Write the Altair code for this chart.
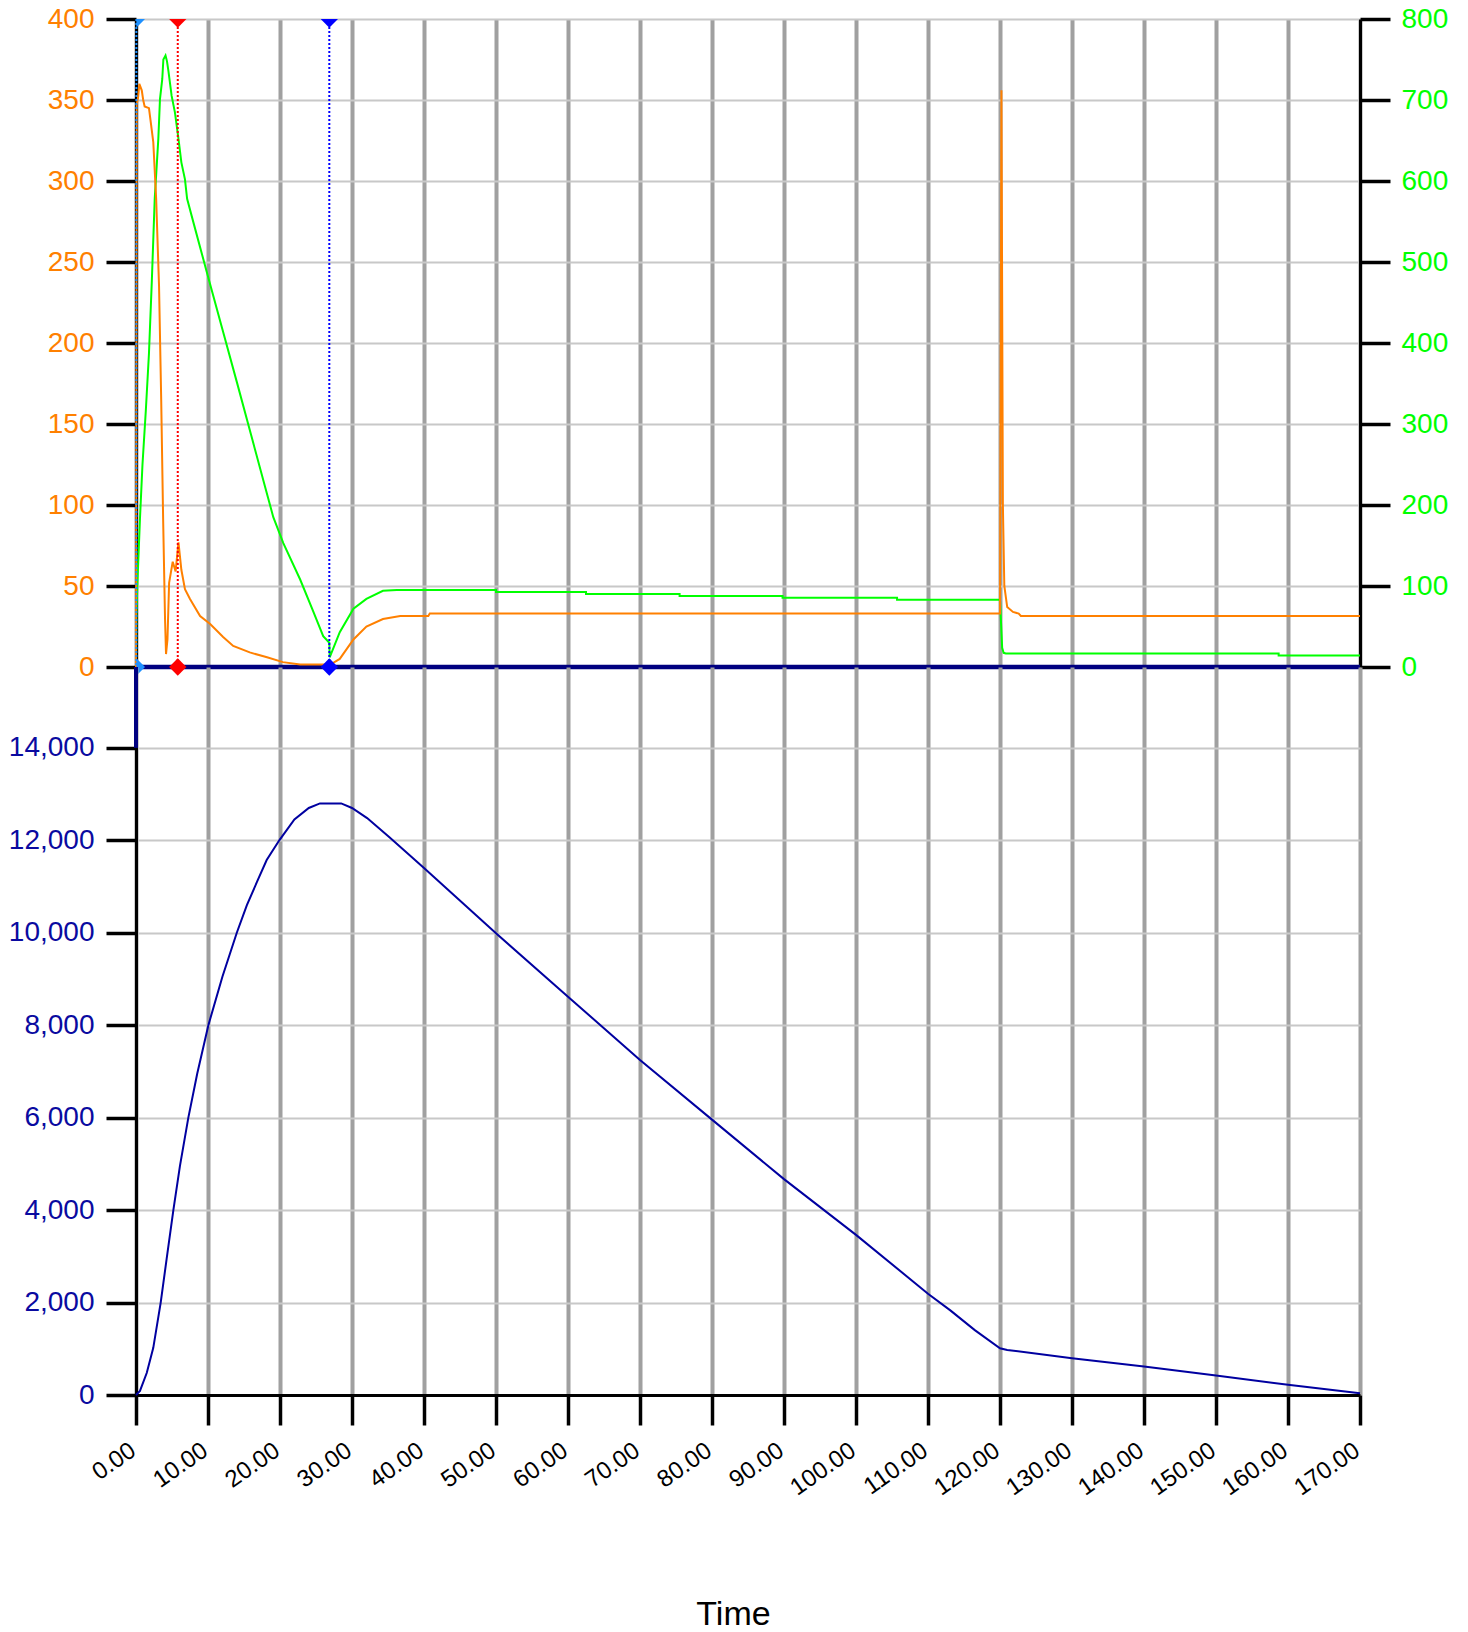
import altair as alt
import pandas as pd

# ---- time axis -------------------------------------------------------------
x_ticks = [0, 10, 20, 30, 40, 50, 60, 70, 80, 90, 100, 110, 120, 130, 140, 150, 160, 170]

# ---- upper panel: orange series (left axis, 0-400) -------------------------
orange_t = [0.0, 0.1, 0.3, 0.46, 0.8, 1.0, 1.2, 1.8, 2.0, 2.4, 2.8, 3.2, 3.5, 3.77, 4.03,
            4.17, 4.37, 4.6, 5.1, 5.5, 5.9, 6.3, 6.8, 7.5, 8.9, 10.3, 12.1, 13.5, 15.8,
            18.2, 20.4, 22.8, 26.5, 27.0, 28.3, 30.2, 32.0, 34.3, 36.7, 40.6, 40.8,
            120.0, 120.2, 120.4, 120.6, 121.0, 121.8, 122.6, 122.9, 170.0]
orange_v = [0, 347, 352, 360, 356, 350, 346, 345, 338, 324, 289, 235, 165, 91, 30,
            8, 17, 52, 65, 59, 77, 60, 48, 42, 31.5, 26.5, 18.5, 13, 9,
            6, 3, 1.5, 1.5, 1.5, 5, 17, 25, 29.6, 31.5, 31.5, 33,
            33, 356, 100, 50, 37, 34, 33, 31.5, 31.5]

# ---- upper panel: green series (right axis, 0-800) -------------------------
green_t = [0.0, 0.05, 0.18, 0.55, 0.9, 1.36, 1.8, 2.2, 2.6, 3.1, 3.33, 3.65, 3.8, 4.1,
           4.3, 4.5, 4.95, 5.4, 5.9, 6.3, 6.8, 7.1, 8.0, 10.0, 12.0, 14.0, 16.0, 18.0,
           19.07, 20.46, 22.8, 24.6, 26.0, 26.85, 26.9, 28.3, 30.2, 32.0, 34.3, 36.2,
           50.0, 50.0, 62.5, 62.5, 75.5, 75.5, 89.8, 89.8, 105.7, 105.7, 120.0,
           120.3, 120.5, 120.8, 158.7, 158.7, 170.0]
green_v = [0, 60, 100, 183, 250, 316, 387, 477, 578, 652, 701, 726, 750, 755,
           748, 736, 705, 685, 652, 623, 602, 578, 548, 482, 417, 352, 286, 220,
           185, 153, 108, 69, 38, 30, 12, 43, 72, 84, 94, 95,
           95, 92.7, 92.7, 90.2, 90.2, 87.8, 87.8, 85.4, 85.4, 82.9, 82.9,
           23.6, 17.5, 16.7, 16.7, 14.2, 14.2]

# ---- upper panel: navy base series -----------------------------------------
navy_t = [0, 170]
navy_v = [0, 0]

# ---- event markers ----------------------------------------------------------
event_t = [0.05, 5.8, 26.85]
event_color = ["#1E90FF", "#FF0000", "#0000FF"]
event_shape_bottom = ["M0,-1L1,0L0,1Z", "diamond", "diamond"]
event_shape_top = ["M0,0L1,0L0,1Z", "M-1,0L1,0L0,1Z", "M-1,0L1,0L0,1Z"]
event_bottom_v = [0, 0, 0]
event_top_v = [400, 400, 400]

# ---- lower panel: navy series (0-15750) -------------------------------------
lower_t = [0.0, 0.55, 1.5, 2.4, 3.43, 4.26, 5.19, 6.1, 7.27, 8.5, 10.05, 12.0, 14.0,
           15.4, 16.8, 18.15, 19.9, 22.0, 24.0, 25.55, 28.5, 30.0, 32.1, 35.2, 40.0,
           50.0, 60.0, 70.0, 80.0, 90.0, 100.0, 110.0, 113.1, 116.5, 120.0, 121.0,
           130.0, 140.0, 150.0, 160.0, 170.0]
lower_v = [0, 89, 480, 1020, 2000, 2950, 4000, 4950, 6000, 6950, 8000, 9050, 10000,
           10599, 11100, 11574, 12000, 12450, 12700, 12798, 12798, 12700, 12482, 12066, 11403,
           9990, 8618, 7247, 5958, 4670, 3464, 2192, 1830, 1403, 1011, 975,
           797, 619, 420, 221, 36]
lower_ticks = [0, 2000, 4000, 6000, 8000, 10000, 12000, 14000]
lower_domain = [0, 15750]
lower_edge_t = [0, 0]
lower_edge_v = [14000, 15750]

FONT = "Liberation Sans"

orange_df = pd.DataFrame({"t": orange_t, "v": orange_v})
green_df = pd.DataFrame({"t": green_t, "v": green_v})
navy_df = pd.DataFrame({"t": navy_t, "v": navy_v})
ev_bottom = pd.DataFrame({"t": event_t, "v": event_bottom_v, "c": event_color, "s": event_shape_bottom})
ev_top = pd.DataFrame({"t": event_t, "v": event_top_v, "c": event_color, "s": event_shape_top})
lower_df = pd.DataFrame({"t": lower_t, "v": lower_v})
edge_df = pd.DataFrame({"t": lower_edge_t, "v": lower_edge_v})

x_scale = alt.Scale(domain=[0, 170], nice=False, zero=False)

# shared tick styling
tick_style = dict(tickSize=30, tickWidth=3.5, tickColor="black",
                  domainColor="black", domainWidth=3, labelFont=FONT, labelOverlap=False)

x_top = alt.X("t:Q", scale=x_scale,
              axis=alt.Axis(values=x_ticks, labels=False, ticks=False, domain=False,
                            grid=True, gridColor="#a0a0a0", gridWidth=4, title=None))

left_scale = alt.Scale(domain=[0, 400], nice=False, zero=False)
y_left = alt.Y("v:Q", scale=left_scale,
               axis=alt.Axis(values=[0, 50, 100, 150, 200, 250, 300, 350, 400], orient="left",
                             format="d", labelColor="#FF8000", labelFontSize=28, labelPadding=12,
                             grid=True, gridColor="#c8c8c8", gridWidth=2, title=None,
                             **tick_style))

right_scale = alt.Scale(domain=[0, 800], nice=False, zero=False)
y_right = alt.Y("v:Q", scale=right_scale,
                axis=alt.Axis(values=[0, 100, 200, 300, 400, 500, 600, 700, 800], orient="right",
                              format="d", labelColor="#00FF00", labelFontSize=28, labelPadding=11,
                              grid=False, title=None, **tick_style))

green_line = alt.Chart(green_df).mark_line(color="#00FF00", strokeWidth=2).encode(x=x_top, y=y_right)

navy_line = alt.Chart(navy_df).mark_line(color="#000080", strokeWidth=4.5).encode(x=x_top, y=y_left)
orange_line = alt.Chart(orange_df).mark_line(color="#FF8000", strokeWidth=2).encode(x=x_top, y=y_left)
event_rules = alt.Chart(ev_bottom).mark_rule(strokeDash=[2, 2], strokeWidth=2).encode(
    x=x_top, color=alt.Color("c:N", scale=None))
marks_bottom = alt.Chart(ev_bottom).mark_point(filled=True, size=300, opacity=1).encode(
    x=x_top, y=y_left, color=alt.Color("c:N", scale=None), shape=alt.Shape("s:N", scale=None))
marks_top = alt.Chart(ev_top).mark_point(filled=True, size=300, opacity=1).encode(
    x=x_top, y=y_left, color=alt.Color("c:N", scale=None), shape=alt.Shape("s:N", scale=None))

left_layers = alt.layer(navy_line, orange_line, event_rules, marks_bottom, marks_top)

upper = alt.layer(green_line, left_layers).resolve_scale(
    y="independent").properties(width=1224, height=648)

# ---- lower panel --------------------------------------------------------------
x_bottom = alt.X("t:Q", scale=x_scale,
                 axis=alt.Axis(values=x_ticks, format=".2f", labelAngle=-35, labelAlign="right",
                               labelBaseline="top", labelFontSize=24,
                               labelPadding=13, labelOffset=-10, labelColor="black",
                               grid=True, gridColor="#a0a0a0", gridWidth=4,
                               title="Time", titleFont=FONT, titleFontSize=34,
                               titleFontWeight="normal", titleColor="black",
                               titleX=597, titleY=229, titleAlign="center",
                               titleBaseline="alphabetic", **tick_style))
lower_scale = alt.Scale(domain=lower_domain, nice=False, zero=False)
y_bottom = alt.Y("v:Q", scale=lower_scale,
                 axis=alt.Axis(values=lower_ticks, format=",.0f", labelColor="#0A0AA0",
                               labelFontSize=28, labelPadding=12,
                               grid=True, gridColor="#c8c8c8", gridWidth=2, title=None,
                               **tick_style))

lower_line = alt.Chart(lower_df).mark_line(color="#0000A0", strokeWidth=2).encode(x=x_bottom, y=y_bottom)
edge_line = alt.Chart(edge_df).mark_line(color="#000080", strokeWidth=4).encode(x=x_bottom, y=y_bottom)

lower = alt.layer(lower_line, edge_line).properties(width=1224, height=728)

chart = alt.vconcat(upper, lower, spacing=0, bounds="flush").properties(
    padding={"left": 8, "top": 5, "right": 5, "bottom": 5}
).configure_view(strokeWidth=0)

chart.save("out.html", embed_options={"renderer": "svg", "actions": False})
